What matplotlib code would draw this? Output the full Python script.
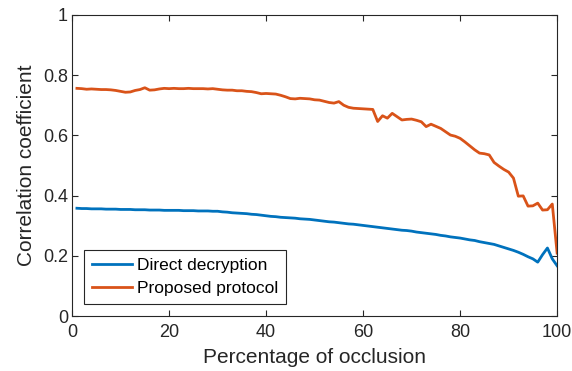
import matplotlib
matplotlib.use("Agg")
import matplotlib.pyplot as plt
import numpy as np

plt.rcParams['font.family'] = ['Liberation Sans', 'DejaVu Sans']

occlusion = list(range(1, 101))

direct_decryption = [
    0.358, 0.357, 0.357, 0.356, 0.356, 0.356, 0.355, 0.355, 0.355, 0.354,
    0.354, 0.354, 0.353, 0.353, 0.353, 0.352, 0.352, 0.352, 0.351, 0.351,
    0.351, 0.351, 0.350, 0.350, 0.350, 0.349, 0.349, 0.349, 0.348, 0.348,
    0.346, 0.345, 0.343, 0.342, 0.341, 0.340, 0.338, 0.337, 0.335, 0.333,
    0.331, 0.330, 0.328, 0.327, 0.326, 0.325, 0.323, 0.322, 0.321, 0.319,
    0.317, 0.315, 0.313, 0.312, 0.310, 0.308, 0.306, 0.305, 0.303, 0.301,
    0.299, 0.297, 0.295, 0.293, 0.291, 0.289, 0.287, 0.285, 0.284, 0.282,
    0.279, 0.277, 0.275, 0.273, 0.271, 0.268, 0.266, 0.263, 0.261, 0.259,
    0.256, 0.253, 0.251, 0.247, 0.244, 0.241, 0.238, 0.233, 0.228, 0.223,
    0.218, 0.212, 0.205, 0.197, 0.190, 0.179, 0.204, 0.226, 0.190, 0.167,
]

proposed_protocol = [
    0.756, 0.755, 0.753, 0.754, 0.753, 0.752, 0.752, 0.751, 0.749, 0.746,
    0.743, 0.744, 0.749, 0.752, 0.758, 0.750, 0.751, 0.754, 0.756, 0.755,
    0.756, 0.755, 0.755, 0.756, 0.755, 0.755, 0.755, 0.754, 0.755, 0.753,
    0.751, 0.750, 0.750, 0.748, 0.748, 0.746, 0.745, 0.742, 0.738, 0.739,
    0.738, 0.737, 0.733, 0.728, 0.722, 0.721, 0.723, 0.722, 0.721, 0.718,
    0.717, 0.713, 0.709, 0.707, 0.712, 0.700, 0.693, 0.690, 0.689, 0.688,
    0.687, 0.686, 0.646, 0.665, 0.657, 0.673, 0.662, 0.651, 0.653, 0.654,
    0.650, 0.645, 0.629, 0.637, 0.630, 0.623, 0.612, 0.601, 0.597, 0.590,
    0.578, 0.565, 0.552, 0.541, 0.539, 0.535, 0.510, 0.498, 0.487, 0.478,
    0.458, 0.398, 0.399, 0.365, 0.366, 0.375, 0.352, 0.353, 0.372, 0.209,
]

x_ticks = [0, 20, 40, 60, 80, 100]
y_ticks = [0, 0.2, 0.4, 0.6, 0.8, 1]
y_ticklabels = ['0', '0.2', '0.4', '0.6', '0.8', '1']

fig = plt.figure(figsize=(5.72, 3.71), dpi=100)
ax = fig.add_axes([0.126, 0.148, 0.848, 0.812])

ax.plot(occlusion, direct_decryption, color='#0072BD', lw=2.0, label='Direct decryption')
ax.plot(occlusion, proposed_protocol, color='#D95319', lw=2.0, label='Proposed protocol')

ax.set_xlim(0, 100)
ax.set_ylim(0, 1)
ax.set_xticks(x_ticks)
ax.set_xticklabels([str(t) for t in x_ticks])
ax.set_yticks(y_ticks)
ax.set_yticklabels(y_ticklabels)

axcol = '#262626'
for s in ax.spines.values():
    s.set_color(axcol)
    s.set_linewidth(0.8)
ax.tick_params(direction='in', top=True, right=True, length=4, width=0.8,
               colors=axcol, labelsize=13)
ax.tick_params(axis='x', pad=6)
ax.tick_params(axis='y', pad=3)

ax.set_xlabel('Percentage of occlusion', fontsize=15, color=axcol, labelpad=5)
ax.set_ylabel('Correlation coefficient', fontsize=15, color=axcol, labelpad=5)

leg = ax.legend(loc='lower left', bbox_to_anchor=(0.025, 0.04), fontsize=12.5,
                fancybox=False, framealpha=1, edgecolor=axcol, handlelength=2.3,
                borderpad=0.45, labelspacing=0.45, handletextpad=0.3, borderaxespad=0)
leg.get_frame().set_linewidth(0.8)

fig.savefig('out.png', dpi=100)
